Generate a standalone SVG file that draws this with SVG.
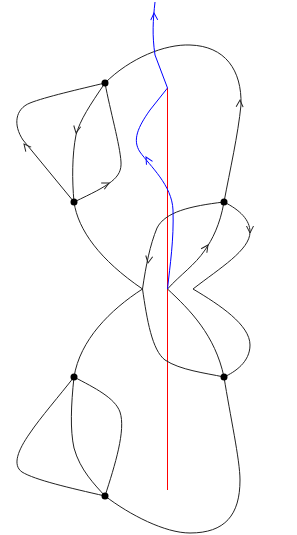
<svg xmlns="http://www.w3.org/2000/svg" xmlns:xlink="http://www.w3.org/1999/xlink" width="297" height="535" viewBox="0 0 297 535">
<style>
.e{fill:none;stroke:#222;stroke-width:1}
.b{fill:none;stroke:#0000ff;stroke-width:1}
.r{fill:none;stroke:#ff0000;stroke-width:1}
.n{fill:#000}
.ah{fill:none;stroke:#222;stroke-width:1}
.ahb{fill:none;stroke:#0000ff;stroke-width:1}
</style>
<defs>
<path id="ah" d="M-7,-3.5 L0,0 L-7,3.5"/>
</defs>
<rect width="297" height="535" fill="#fff"/>
<g id="connectors">
<path class="r" d="M167.5,88 L167.5,490"/>
<path class="e" d="M105,83 C130,58 165,44 190,45 C225,46 242,70 241,105 C238,135 230,170 224,202"/>
<path class="e" d="M105,83 C80,89 45,97 30,103 C15,109 13,125 23,140 L74,202"/>
<path class="e" d="M105,83 C90,105 80,120 76,135 C72,155 72,180 74,202"/>
<path class="e" d="M105,83 C110,110 120,145 121,162 C122,178 110,185 74,202"/>
<path class="e" d="M74,202 C78,230 100,260 142.5,289"/>
<path class="e" d="M142.5,289 C110,310 80,340 74,377"/>
<path class="e" d="M224,202 C190,206 165,212 157,228 C150,245 146,265 142.5,289"/>
<path class="e" d="M142.5,289 C147,320 152,350 165,360 C180,370 205,373 224,377"/>
<path class="e" d="M224,202 C220,225 212,240 205,250 C195,265 180,275 167.5,289"/>
<path class="e" d="M167.5,289 C190,310 215,335 224,377"/>
<path class="e" d="M224,202 C240,210 250,220 250,232 C250,250 220,268 193,289"/>
<path class="e" d="M193,289 C220,305 250,325 250,345 C250,362 235,372 224,377"/>
<path class="e" d="M224,377 C230,415 240,460 240,480 C240,515 225,533 190,533 C165,533 130,515 105,496"/>
<path class="e" d="M74,377 C60,395 40,418 30,433 C18,450 12,465 22,472 C35,480 70,488 105,496"/>
<path class="e" d="M74,377 C71,405 70,430 74,448 C80,470 95,485 105,496"/>
<path class="e" d="M74,377 C95,388 115,398 120,412 C126,430 115,465 105,496"/>
<path class="b" d="M155,2 C153,20 152,35 155,55 L167.5,88 L150,110 C138,127 132,140 140,152 C150,166 172,185 173,210 C174,240 170,265 167.5,289"/>
<use xlink:href="#ah" class="ah" transform="translate(240,100) rotate(-87)"/>
<use xlink:href="#ah" class="ah" transform="translate(76,133) rotate(100)"/>
<use xlink:href="#ah" class="ah" transform="translate(24,144) rotate(-130)"/>
<use xlink:href="#ah" class="ah" transform="translate(109,183) rotate(-27)"/>
<use xlink:href="#ah" class="ah" transform="translate(148,263) rotate(100)"/>
<use xlink:href="#ah" class="ah" transform="translate(208,245) rotate(-55)"/>
<use xlink:href="#ah" class="ah" transform="translate(250,233) rotate(90)"/>
<use xlink:href="#ah" class="ahb" transform="translate(154,13) rotate(-92)"/>
<use xlink:href="#ah" class="ahb" transform="translate(146,157) rotate(-120)"/>
</g>
<g id="nA"><circle class="n" cx="105" cy="83" r="3.5"/></g>
<g id="nB"><circle class="n" cx="74" cy="202" r="3.5"/></g>
<g id="nC"><circle class="n" cx="224" cy="202" r="3.5"/></g>
<g id="nD"><circle class="n" cx="224" cy="377" r="3.5"/></g>
<g id="nE"><circle class="n" cx="74" cy="377" r="3.5"/></g>
<g id="nF"><circle class="n" cx="105" cy="496" r="3.5"/></g>
</svg>
